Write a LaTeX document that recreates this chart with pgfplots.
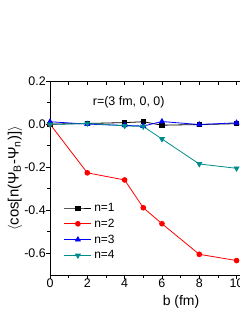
\documentclass[border=0pt]{standalone}
\usepackage{pgfplots}
\pgfplotsset{compat=1.18}
\usepackage{fontspec}
\setmainfont{Liberation Sans}
\definecolor{myteal}{RGB}{0,140,140}
\definecolor{myblue}{RGB}{0,0,255}
\definecolor{myred}{RGB}{255,0,0}

\begin{document}
\begin{tikzpicture}[x=1bp,y=1bp]
\begin{scope}
\clip (0,0) rectangle (240,310);
\begin{axis}[
  at={(50bp,35bp)}, anchor=south west,
  scale only axis, width=195.9bp, height=194bp,
  xmin=0, xmax=10.5, ymin=-0.7, ymax=0.2,
  xtick={0,2,4,6,8,10}, minor x tick num=1,
  ytick={-0.6,-0.4,-0.2,0,0.2}, minor y tick num=1,
  xtick pos=left, ytick pos=left,
  tick align=outside,
  major tick length=4bp, minor tick length=2.5bp,
  axis line style={line width=0.9bp},
  every tick/.style={line width=0.8bp, black},
  ticklabel style={font=\fontsize{12.5}{14}\selectfont, inner sep=0pt},
  /pgf/number format/assume math mode=true,
  yticklabel style={/pgf/number format/.cd, fixed, fixed zerofill, precision=1},
  xticklabel style={/pgf/number format/.cd, fixed, precision=0},
  clip=false,
  legend cell align=left,
  legend style={draw=none, fill=none, inner sep=0pt, outer sep=0pt,
    at={(axis cs:0.75,-0.362)}, anchor=north west,
    font=\fontsize{12}{14}\selectfont, row sep=4bp, column sep=1.5bp,
    nodes={inner sep=1bp}},
  legend image code/.code={
    \draw[mark repeat=2, mark phase=2] plot coordinates {(0bp,0bp) (13.5bp,0bp) (27bp,0bp)};},
]
\addplot[black, line width=0.8bp, mark=square*, mark size=2.1bp] coordinates {
 (0,0.0) (2,0.003) (4,0.007) (5,0.011) (6,-0.005) (8,-0.002) (10,0.002)};
\addlegendentry{n=1}
\addplot[myred, line width=0.8bp, mark=*, mark size=2.4bp] coordinates {
 (0,0.0) (2,-0.226) (4,-0.259) (5,-0.388) (6,-0.462) (8,-0.604) (10,-0.633)};
\addlegendentry{n=2}
\addplot[myblue, line width=0.8bp, mark=triangle*, mark size=2.8bp] coordinates {
 (0,0.011) (2,0.0) (4,-0.006) (5,-0.009) (6,0.012) (8,-0.002) (10,0.006)};
\addlegendentry{n=3}
\addplot[myteal, line width=0.8bp, mark=triangle*, mark size=2.8bp, mark options={rotate=180}] coordinates {
 (0,-0.002) (2,0.003) (4,-0.008) (5,-0.011) (6,-0.069) (8,-0.185) (10,-0.205)};
\addlegendentry{n=4}
\node[font=\fontsize{12.5}{14}\selectfont] at (axis cs:4.22,0.1025) {r=(3 fm, 0, 0)};
\end{axis}
\begin{axis}[
  at={(50bp,35bp)}, anchor=south west,
  scale only axis, width=195.9bp, height=194bp,
  xmin=0, xmax=10.5, ymin=-0.7, ymax=0.2,
  xtick={0,2,4,6,8,10}, minor x tick num=1, ytick=\empty,
  xtick pos=right, tick align=inside,
  major tick length=3.5bp, minor tick length=3.5bp,
  every tick/.style={line width=0.8bp, black},
  xticklabels={}, axis line style={draw=none},
]
\end{axis}
\node[rotate=90, anchor=base, font=\fontsize{15}{17}\selectfont] at (18.5,131.5)
  {$\langle$cos[n(Ψ\textsubscript{B}-Ψ\textsubscript{n})]$\rangle$};
\node[anchor=base, font=\fontsize{14}{16}\selectfont] at (181,4.5) {b (fm)};
\end{scope}
\pgfresetboundingbox
\path[use as bounding box] (0,0) rectangle (240,310);
\end{tikzpicture}
\end{document}
